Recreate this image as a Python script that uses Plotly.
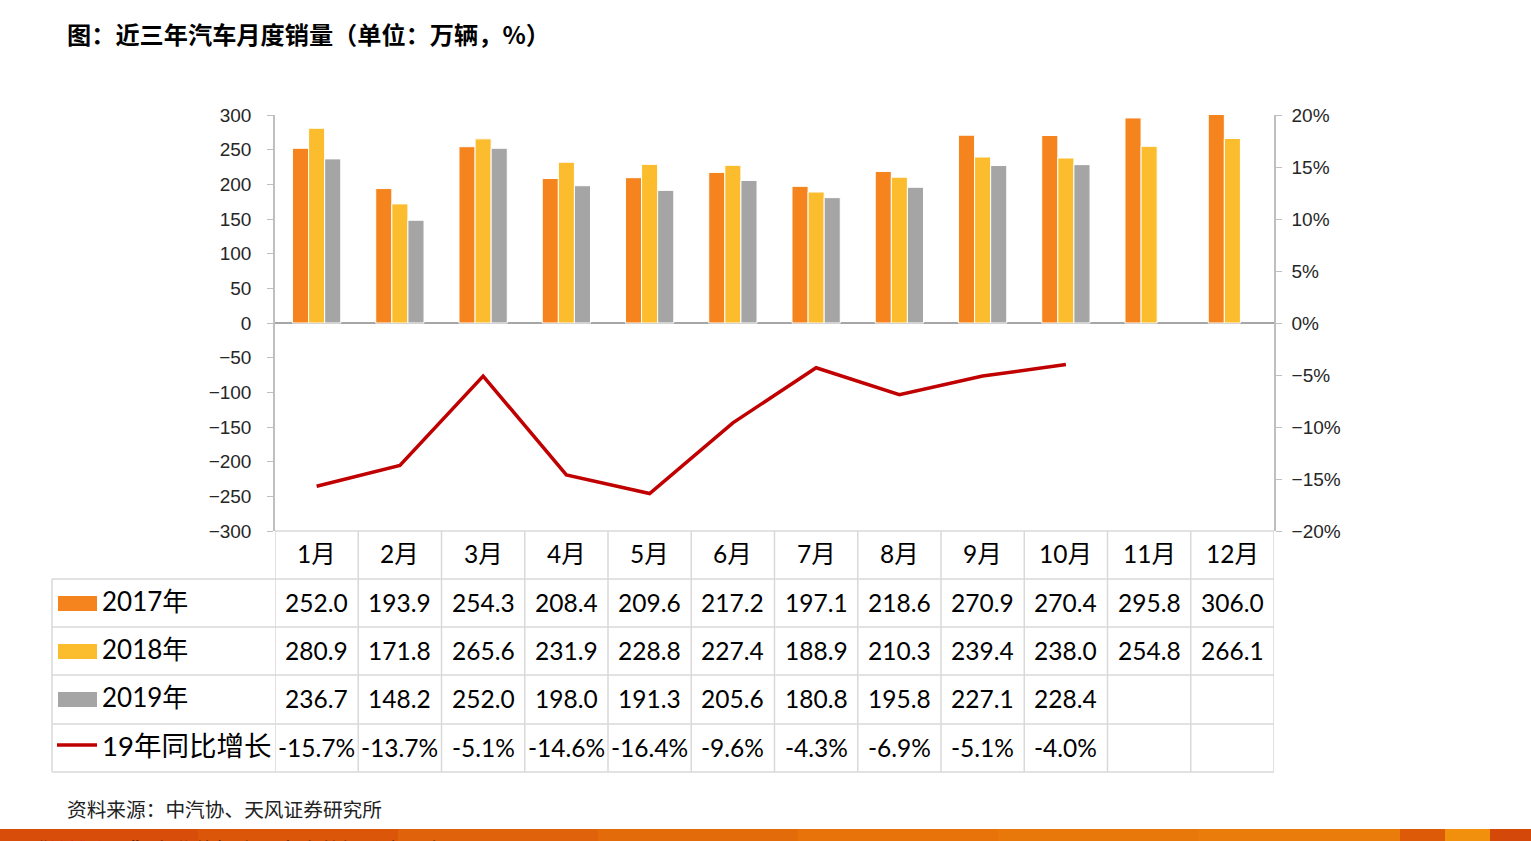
import plotly.graph_objects as go

months = ["1月", "2月", "3月", "4月", "5月", "6月", "7月", "8月", "9月", "10月", "11月", "12月"]
sales_2017 = [252.0, 193.9, 254.3, 208.4, 209.6, 217.2, 197.1, 218.6, 270.9, 270.4, 295.8, 306.0]
sales_2018 = [280.9, 171.8, 265.6, 231.9, 228.8, 227.4, 188.9, 210.3, 239.4, 238.0, 254.8, 266.1]
sales_2019 = [236.7, 148.2, 252.0, 198.0, 191.3, 205.6, 180.8, 195.8, 227.1, 228.4, None, None]
yoy_2019 = [-15.7, -13.7, -5.1, -14.6, -16.4, -9.6, -4.3, -6.9, -5.1, -4.0, None, None]

series_names = ["2017年", "2018年", "2019年"]
yoy_name = "19年同比增长"
left_ticks = [300, 250, 200, 150, 100, 50, 0, -50, -100, -150, -200, -250, -300]
right_ticks = [20, 15, 10, 5, 0, -5, -10, -15, -20]
right_tick_text = ["20%", "15%", "10%", "5%", "0%", "−5%", "−10%", "−15%", "−20%"]

colors = ["#F5841F", "#FBBC2D", "#A5A5A5"]
line_color = "#C00000"
grid_color = "#D9D9D9"

W, H = 1531, 841
L, R, T, B = 275, 1274, 115, 531
ph = B - T
pw = R - L


def py(ypix):
    return (B - ypix) / ph


def px(xpix):
    return (xpix - L) / pw


x = list(range(len(months)))
fig = go.Figure()
for name, vals, c in zip(series_names, [sales_2017, sales_2018, sales_2019], colors):
    fig.add_trace(go.Bar(x=x, y=vals, name=name, marker=dict(color=c, line=dict(color="white", width=1)),
                         yaxis="y"))
fig.add_trace(go.Scatter(x=x, y=yoy_2019, name=yoy_name, mode="lines",
                         line=dict(color=line_color, width=3.5), yaxis="y2"))

cjk = "Lato, 'Noto Sans CJK SC', sans-serif"
shapes = []
annotations = []

# table geometry
row_edges = [531, 579, 627, 675, 724, 772]
tbl_left = 52
line_style = dict(color=grid_color, width=1.5)
shapes.append(dict(type="line", xref="x", yref="paper", x0=-0.5, x1=11.5, y0=py(531), y1=py(531), line=line_style))
for e in row_edges[1:]:
    shapes.append(dict(type="line", xref="paper", yref="paper", x0=px(tbl_left), x1=1.0, y0=py(e), y1=py(e), line=line_style))
shapes.append(dict(type="line", xref="paper", yref="paper", x0=px(tbl_left), x1=px(tbl_left), y0=py(579), y1=py(772), line=line_style))
for k in range(len(months) + 1):
    shapes.append(dict(type="line", xref="x", yref="paper", x0=k - 0.5, x1=k - 0.5, y0=py(531), y1=py(772), line=line_style))


def ann(**kw):
    base = dict(showarrow=False, xanchor="center", yanchor="middle")
    base.update(kw)
    annotations.append(base)


# month header
for i, m in enumerate(months):
    ann(x=i, y=py(553), xref="x", yref="paper", text=m, font=dict(family=cjk, size=24.5, color="#000000"))

rows = [sales_2017, sales_2018, sales_2019]
row_centers = [603, 651, 699, 748]
for vals, yc in zip(rows, row_centers[:3]):
    for i, v in enumerate(vals):
        if v is None:
            continue
        ann(x=i, y=py(yc - 1), xref="x", yref="paper", text=f"{v:.1f}", font=dict(family=cjk, size=24.5, color="#000000"))
for i, v in enumerate(yoy_2019):
    if v is None:
        continue
    ann(x=i, y=py(747), xref="x", yref="paper", text=f"{v:.1f}%", font=dict(family=cjk, size=24.5, color="#000000"))

# legend cells
for name, c, yc in zip(series_names, colors, row_centers[:3]):
    shapes.append(dict(type="rect", xref="paper", yref="paper", x0=px(58), x1=px(97), y0=py(yc - 7), y1=py(yc + 8),
                       fillcolor=c, line=dict(width=0)))
    ann(x=px(100), y=py(yc - 2), xref="paper", yref="paper", text=name, xanchor="left",
        font=dict(family=cjk, size=26, color="#000000"))
shapes.append(dict(type="line", xref="paper", yref="paper", x0=px(57), x1=px(97), y0=py(745), y1=py(745),
                   line=dict(color=line_color, width=3.5)))
ann(x=px(100), y=py(745), xref="paper", yref="paper", text=yoy_name, xanchor="left",
    font=dict(family=cjk, size=27.5, color="#000000"))

# title and source
ann(x=px(65), y=py(34), xref="paper", yref="paper", xanchor="left",
    text="<b>图：近三年汽车月度销量（单位：万辆，%）</b>",
    font=dict(family="'Noto Sans CJK SC', sans-serif", size=24.2, color="#000000"))
ann(x=px(65), y=py(808), xref="paper", yref="paper", xanchor="left",
    text="资料来源：中汽协、天风证券研究所",
    font=dict(family="'Noto Sans CJK SC', sans-serif", size=19.7, color="#222222"))

# bottom banner
banner_cols = ["#D94D0A", "#DC560A", "#E0620A", "#E46B0A", "#E7730A", "#E8780A", "#E97C0A"]
seg = 1400 / len(banner_cols)
for k, c in enumerate(banner_cols):
    shapes.append(dict(type="rect", xref="paper", yref="paper", x0=px(k * seg - 2), x1=px((k + 1) * seg + 1),
                       y0=py(829), y1=py(845), fillcolor=c, line=dict(width=0), layer="below"))
for x0, x1, c in [(1400, 1445, "#DC5A08"), (1445, 1490, "#F0900D"), (1490, 1535, "#D4480A")]:
    shapes.append(dict(type="rect", xref="paper", yref="paper", x0=px(x0), x1=px(x1),
                       y0=py(829), y1=py(845), fillcolor=c, line=dict(width=0), layer="below"))
ann(x=px(24), y=py(832), xref="paper", yref="paper", xanchor="left", yanchor="top",
    text="“<span style='color:#E8202A'>慧博资讯</span>”专业的投资研究大数据分享平台",
    font=dict(family="'Noto Sans CJK SC', sans-serif", size=21, color="#3A1500"))

axis_font = dict(family="'Liberation Sans', Arial, sans-serif", size=19, color="#262626")
fig.update_layout(
    width=W, height=H,
    margin=dict(l=L, r=W - R, t=T, b=H - B),
    paper_bgcolor="white", plot_bgcolor="white",
    barmode="group", bargap=0.42, bargroupgap=0,
    showlegend=False,
    font=axis_font,
    xaxis=dict(range=[-0.5, 11.5], showticklabels=False, showgrid=False, zeroline=False, showline=False,
               ticks="", fixedrange=True),
    yaxis=dict(range=[-300, 300], tickmode="array", tickvals=left_ticks, showgrid=False, zeroline=True,
               zerolinecolor="#A6A6A6", zerolinewidth=2, showline=True, linecolor="#BFBFBF", linewidth=1.5,
               ticks="outside", ticklen=6, tickcolor="#BFBFBF", tickfont=axis_font, ticklabelstandoff=12),
    yaxis2=dict(range=[-20, 20], tickmode="array", tickvals=right_ticks, ticktext=right_tick_text,
                overlaying="y", side="right", showgrid=False, zeroline=False, showline=True,
                linecolor="#BFBFBF", linewidth=1.5, ticks="outside", ticklen=6, tickcolor="#BFBFBF",
                tickfont=axis_font, ticklabelstandoff=6),
    shapes=shapes, annotations=annotations,
)

fig.write_html("out.html", config={"displayModeBar": False},
               post_script="document.body.style.margin='0';document.body.style.overflow='hidden';")
